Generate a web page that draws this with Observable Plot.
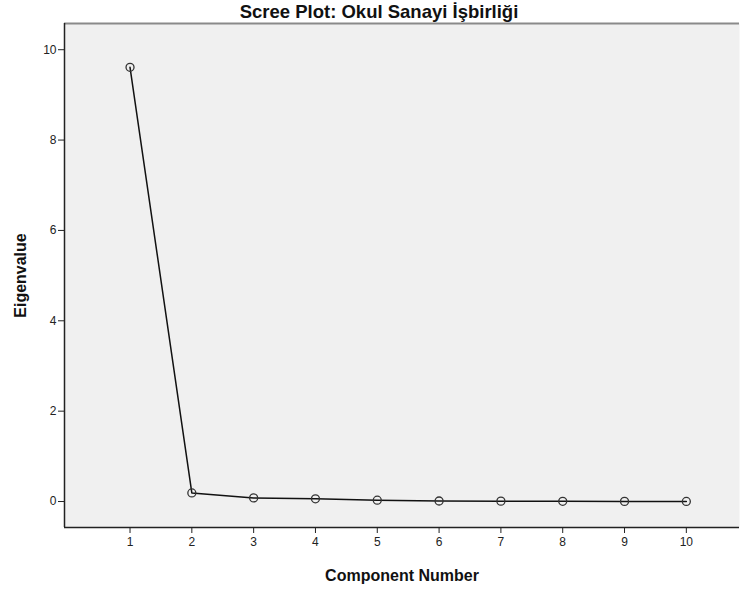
<!DOCTYPE html>
<html>
<head>
<meta charset="utf-8">
<script src="https://cdn.jsdelivr.net/npm/d3@7"></script>
<script src="https://cdn.jsdelivr.net/npm/@observablehq/plot@0.6"></script>
<style>
  html, body { margin: 0; padding: 0; background: #fff; }
  #chart svg { display: block; font-family: "Liberation Sans", Arial, sans-serif; }
</style>
</head>
<body>
<div id="chart"></div>
<script>
const components = [1, 2, 3, 4, 5, 6, 7, 8, 9, 10];
const eigenvalues = [9.61, 0.19, 0.08, 0.06, 0.03, 0.012, 0.008, 0.005, 0.003, 0.002];
const yTicks = [0, 2, 4, 6, 8, 10];
const xTicks = [1, 2, 3, 4, 5, 6, 7, 8, 9, 10];
const titleText = "Scree Plot: Okul Sanayi İşbirliği";
const xLabel = "Component Number";
const yLabel = "Eigenvalue";

const data = components.map((c, i) => ({component: c, eigenvalue: eigenvalues[i]}));
const xDomain = [-0.06, 10.86];
const yDomain = [-0.575, 10.58];

const chart = Plot.plot({
  width: 740,
  height: 589,
  marginLeft: 64,
  marginRight: 1,
  marginTop: 23,
  marginBottom: 62,
  x: {domain: xDomain},
  y: {domain: yDomain},
  marks: [
    Plot.frame({fill: "#f0f0f0", stroke: null}),
    Plot.ruleY([yDomain[1]], {stroke: "#8a8a8a", strokeWidth: 2}),
    Plot.ruleX([xDomain[0]], {stroke: "#222", strokeWidth: 1.5}),
    Plot.ruleY([yDomain[0]], {stroke: "#222", strokeWidth: 1.5}),
    Plot.axisY({ticks: yTicks, tickSize: 6, tickPadding: 2, fontSize: 12, color: "#222", label: null, tickFormat: d => d}),
    Plot.axisX({ticks: xTicks, tickSize: 6, tickPadding: 4, fontSize: 12, color: "#222", label: null, tickFormat: d => d}),
    Plot.line(data, {x: "component", y: "eigenvalue", stroke: "#111", strokeWidth: 1.5}),
    Plot.dot(data, {x: "component", y: "eigenvalue", r: 4, stroke: "#333", strokeWidth: 1.3, fill: "none"}),
    Plot.text([titleText], {frameAnchor: "top", lineAnchor: "middle", dy: -11, dx: -23, fontSize: 18.5, fontWeight: "bold", fill: "#111"}),
    Plot.text([xLabel], {frameAnchor: "bottom", dy: 53, fontSize: 16, fontWeight: "bold", fill: "#111"}),
    Plot.text([yLabel], {frameAnchor: "left", dx: -44, rotate: -90, textAnchor: "middle", fontSize: 16, fontWeight: "bold", fill: "#111"})
  ]
});
document.getElementById("chart").appendChild(chart);
</script>
</body>
</html>
